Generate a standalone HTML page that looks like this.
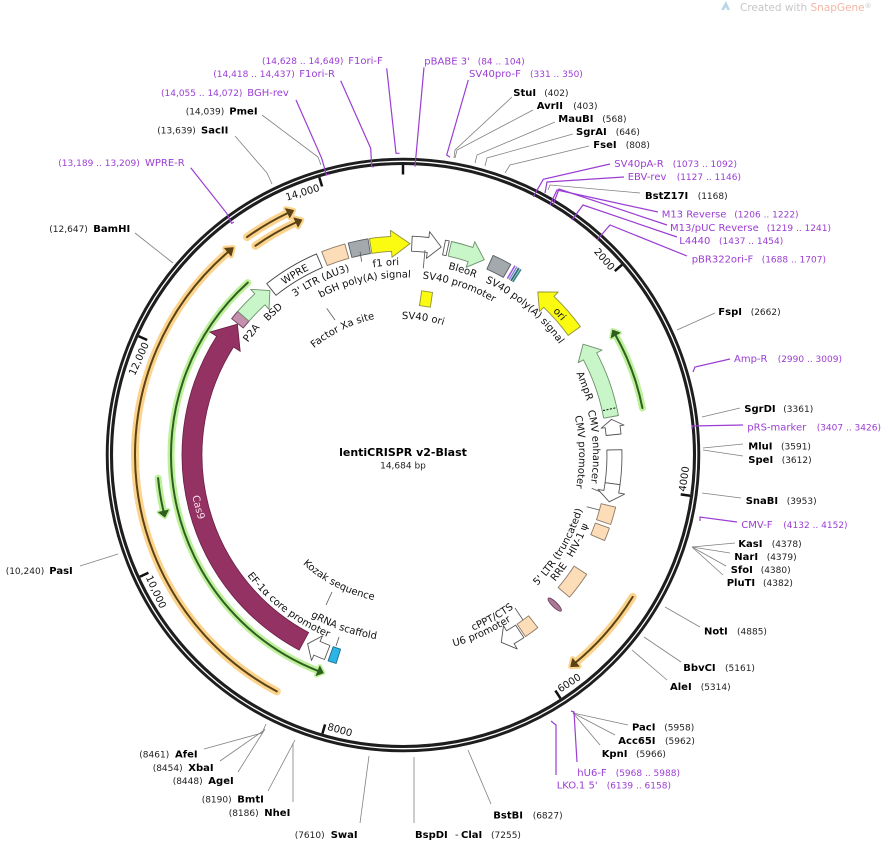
<!DOCTYPE html>
<html>
<head>
<meta charset="utf-8">
<style>
html,body{margin:0;padding:0;background:#fff;}
svg{display:block;font-family:"DejaVu Sans","Liberation Sans",sans-serif;}
.en{font-weight:bold;font-size:10px;fill:#000;}
.nm{font-size:9px;fill:#222;}
.pn{font-size:10px;fill:#9b3dd3;}
.pr{font-size:9px;fill:#9b3dd3;}
.el{stroke:#808080;stroke-width:0.8;fill:none;}
.pl{stroke:#9b3dd3;stroke-width:1.2;fill:none;}
.lb{font-size:10px;fill:#111;}
.ll{stroke:#555;stroke-width:0.8;fill:none;}
.tk{font-size:10px;fill:#111;}
</style>
</head>
<body>
<svg width="890" height="842" viewBox="0 0 890 842" xmlns="http://www.w3.org/2000/svg">
<defs>
<path id="c136" d="M403,319A136,136 0 1 1 403,591A136,136 0 1 1 403,319A136,136 0 1 1 403,591A136,136 0 1 1 403,319"/>
<path id="c139" d="M403,316A139,139 0 1 1 403,594A139,139 0 1 1 403,316A139,139 0 1 1 403,594A139,139 0 1 1 403,316"/>
<path id="c176" d="M403,279A176,176 0 1 1 403,631A176,176 0 1 1 403,279A176,176 0 1 1 403,631A176,176 0 1 1 403,279"/>
<path id="c177" d="M403,277.5A177.5,177.5 0 1 1 403,632.5A177.5,177.5 0 1 1 403,277.5A177.5,177.5 0 1 1 403,632.5A177.5,177.5 0 1 1 403,277.5"/>
<path id="c190" d="M403,265A190,190 0 1 1 403,645A190,190 0 1 1 403,265A190,190 0 1 1 403,645A190,190 0 1 1 403,265"/>
<path id="c191" d="M403,263.5A191.5,191.5 0 1 1 403,646.5A191.5,191.5 0 1 1 403,263.5A191.5,191.5 0 1 1 403,646.5A191.5,191.5 0 1 1 403,263.5"/>
<path id="c207" d="M403,247.5A207.5,207.5 0 1 1 403,662.5A207.5,207.5 0 1 1 403,247.5A207.5,207.5 0 1 1 403,662.5A207.5,207.5 0 1 1 403,247.5"/>
<path id="a148" d="M403,307A148,148 0 1 0 403,603A148,148 0 1 0 403,307A148,148 0 1 0 403,603A148,148 0 1 0 403,307"/>
<path id="a186" d="M403,269A186,186 0 1 0 403,641A186,186 0 1 0 403,269A186,186 0 1 0 403,641A186,186 0 1 0 403,269"/>
<path id="a187" d="M403,267.5A187.5,187.5 0 1 0 403,642.5A187.5,187.5 0 1 0 403,267.5A187.5,187.5 0 1 0 403,642.5A187.5,187.5 0 1 0 403,267.5"/>
<path id="a189" d="M403,266A189,189 0 1 0 403,644A189,189 0 1 0 403,266A189,189 0 1 0 403,644A189,189 0 1 0 403,266"/>
<path id="a197" d="M403,258A197,197 0 1 0 403,652A197,197 0 1 0 403,258A197,197 0 1 0 403,652A197,197 0 1 0 403,258"/>
<path id="a198" d="M403,257A198,198 0 1 0 403,653A198,198 0 1 0 403,257A198,198 0 1 0 403,653A198,198 0 1 0 403,257"/>
<path id="a214" d="M403,240.5A214.5,214.5 0 1 0 403,669.5A214.5,214.5 0 1 0 403,240.5A214.5,214.5 0 1 0 403,669.5A214.5,214.5 0 1 0 403,240.5"/>
</defs>

<rect width="890" height="842" fill="#fff"/>

<polygon points="721,10 726,1 730,10 727,10 726,7 724,10" fill="#b9d7e6"/>
<text x="740" y="11" style="font-size:10.5px"><tspan fill="#c6c6c6">Created with </tspan><tspan fill="#f3b6a6">SnapGene</tspan><tspan fill="#c6c6c6" style="font-size:7px" dy="-3">®</tspan></text>

<g stroke-linecap="round" stroke-linejoin="round">
  <g stroke="#fbd38d" stroke-width="8" fill="#fbd38d">
    <path d="M276.8,691.4 A268,268 0 0 1 227.9,252.1" fill="none"/>
    <polygon points="233.3,247.6 231.2,255.9 224.6,248.3" stroke-width="5"/>
    <path d="M247.0,237.1 A268,268 0 0 1 287.6,213.1" fill="none"/>
    <polygon points="293.6,210.4 289.8,217.6 285.5,208.6" stroke-width="5"/>
    <path d="M255.4,245.8 A256,256 0 0 1 296.0,222.4" fill="none"/>
    <polygon points="301.8,219.9 298.1,227.0 293.9,217.9" stroke-width="5"/>
    <path d="M632.7,596.9 A270,270 0 0 1 575.8,662.4" fill="none"/>
    <polygon points="570.7,666.6 572.6,658.6 579.0,666.3" stroke-width="5"/>
  </g>
  <g stroke="#5a4214" stroke-width="2" fill="#5a4214">
    <path d="M276.8,691.4 A268,268 0 0 1 227.9,252.1" fill="none"/>
    <polygon points="233.3,247.6 231.2,255.9 224.6,248.3" stroke-width="0.8"/>
    <path d="M247.0,237.1 A268,268 0 0 1 287.6,213.1" fill="none"/>
    <polygon points="293.6,210.4 289.8,217.6 285.5,208.6" stroke-width="0.8"/>
    <path d="M255.4,245.8 A256,256 0 0 1 296.0,222.4" fill="none"/>
    <polygon points="301.8,219.9 298.1,227.0 293.9,217.9" stroke-width="0.8"/>
    <path d="M632.7,596.9 A270,270 0 0 1 575.8,662.4" fill="none"/>
    <polygon points="570.7,666.6 572.6,658.6 579.0,666.3" stroke-width="0.8"/>
  </g>
  <g stroke="#bdf09a" stroke-width="7" fill="#bdf09a">
    <path d="M642.4,408.0 A244,244 0 0 0 615.6,335.2" fill="none"/>
    <polygon points="612.6,330.1 611.2,337.7 619.9,332.8" stroke-width="4"/>
    <path d="M158.1,478.1 A246,246 0 0 0 163.5,511.2" fill="none"/>
    <polygon points="164.9,517.0 168.4,510.0 158.6,512.3" stroke-width="4"/>
    <path d="M247.8,282.6 A232,232 0 0 0 318.0,670.9" fill="none"/>
    <polygon points="323.3,672.9 319.8,666.2 316.1,675.5" stroke-width="4"/>
  </g>
  <g stroke="#2f5e1f" stroke-width="2" fill="#2f5e1f">
    <path d="M642.4,408.0 A244,244 0 0 0 615.6,335.2" fill="none"/>
    <polygon points="612.6,330.1 611.2,337.7 619.9,332.8" stroke-width="0.8"/>
    <path d="M158.1,478.1 A246,246 0 0 0 163.5,511.2" fill="none"/>
    <polygon points="164.9,517.0 168.4,510.0 158.6,512.3" stroke-width="0.8"/>
    <path d="M247.8,282.6 A232,232 0 0 0 318.0,670.9" fill="none"/>
    <polygon points="323.3,672.9 319.8,666.2 316.1,675.5" stroke-width="0.8"/>
  </g>
</g>

<path d="M299.2,650.1 A221,221 0 0 1 216.6,336.3 L209.9,332.0 L237.4,324.2 L240.2,351.3 L233.5,347.0 A201,201 0 0 0 308.6,632.5 Z" fill="#933263" stroke="#6a1f45" stroke-width="0.8"/>
<text style="font-size:10px;fill:#f8dcea"><textPath href="#a214" startOffset="64.49%" text-anchor="middle">Cas9</textPath></text>

<g stroke-width="0.9" stroke-linejoin="round">
<path d="M231.6,318.7 A219,219 0 0 1 237.7,311.3 L249.0,321.2 A204,204 0 0 0 243.3,328.0 Z" fill="#c58fae" stroke="#6b3d58"/>
<path d="M237.7,311.3 A219,219 0 0 1 254.8,293.8 L250.7,289.4 L269.9,290.6 L269.0,309.3 L264.9,304.8 A204,204 0 0 0 249.0,321.2 Z" fill="#c8f6c8" stroke="#6d8f6d"/>
<path d="M266.7,283.6 A219,219 0 0 1 316.4,253.9 L322.3,267.6 A204,204 0 0 0 276.0,295.3 Z" fill="#fff" stroke="#444"/>
<path d="M321.7,251.7 A219,219 0 0 1 344.8,243.9 L348.8,258.3 A204,204 0 0 0 327.2,265.6 Z" fill="#fddcb8" stroke="#8c7a66"/>
<path d="M348.2,243.0 A219,219 0 0 1 368.0,238.8 L370.4,253.6 A204,204 0 0 0 351.9,257.5 Z" fill="#a4a9ae" stroke="#555b60"/>
<path d="M369.5,238.6 A219,219 0 0 1 390.8,236.4 L390.4,230.4 L410.0,243.6 L392.0,257.3 L391.6,251.3 A204,204 0 0 0 371.8,253.4 Z" fill="#fbfb12" stroke="#8f8f3a"/>
<path d="M412.2,236.2 A219,219 0 0 1 428.9,237.5 L429.6,231.6 L441.2,247.0 L426.4,258.4 L427.2,252.4 A204,204 0 0 0 411.5,251.2 Z" fill="#fff" stroke="#555"/>
<path d="M445.5,240.2 A219,219 0 0 1 449.3,240.9 L446.1,255.6 A204,204 0 0 0 442.6,254.9 Z" fill="#fff" stroke="#555"/>
<path d="M451.5,241.5 A219,219 0 0 1 472.9,247.4 L474.8,241.7 L484.3,259.7 L466.2,267.3 L468.1,261.6 A204,204 0 0 0 448.2,256.1 Z" fill="#c8f6c8" stroke="#6d8f6d"/>
<path d="M493.1,255.4 A219,219 0 0 1 510.8,264.4 L503.4,277.4 A204,204 0 0 0 486.9,269.1 Z" fill="#a4a9ae" stroke="#555b60"/>
<line x1="507.3" y1="278.6" x2="515.0" y2="265.6" stroke="#a05ad8" stroke-width="1.6"/>
<line x1="509.2" y1="279.6" x2="517.0" y2="266.8" stroke="#7b86e0" stroke-width="1.4"/>
<line x1="511.0" y1="280.8" x2="518.9" y2="268.0" stroke="#2b6d6d" stroke-width="1.8"/>
<line x1="512.8" y1="281.9" x2="520.9" y2="269.3" stroke="#3e8c8a" stroke-width="1.8"/>
<path d="M580.4,326.6 A219,219 0 0 0 554.0,296.4 L558.2,292.1 L537.8,292.0 L539.5,311.6 L543.7,307.3 A204,204 0 0 1 568.2,335.4 Z" fill="#fbfb12" stroke="#8f8f3a"/>
<path d="M618.4,415.5 A219,219 0 0 0 596.7,352.9 L602.0,350.1 L583.1,344.2 L578.2,362.7 L583.5,359.9 A204,204 0 0 1 603.7,418.2 Z" fill="#c8f6c8" stroke="#6d8f6d"/>
<line x1="603.1" y1="410.6" x2="615.8" y2="407.8" stroke="#111" stroke-width="1" stroke-dasharray="2,1.5"/>
<path d="M621.0,434.0 A219,219 0 0 0 620.0,425.7 L624.0,425.1 L611.5,419.4 L601.2,428.2 L605.2,427.7 A204,204 0 0 1 606.1,435.5 Z" fill="#fff" stroke="#555"/>
<path d="M621.9,449.7 A219,219 0 0 1 620.0,484.7 L605.1,482.7 A204,204 0 0 0 606.9,450.0 Z" fill="#fff" stroke="#555"/>
<path d="M620.0,484.7 A219,219 0 0 1 618.7,493.0 L624.6,494.1 L609.2,501.8 L598.0,489.4 L603.9,490.4 A204,204 0 0 0 605.1,482.7 Z" fill="#fff" stroke="#555"/>
<path d="M615.7,507.2 A219,219 0 0 1 610.7,524.5 L596.5,519.7 A204,204 0 0 0 601.1,503.7 Z" fill="#fddcb8" stroke="#8c7a66"/>
<path d="M609.4,528.1 A219,219 0 0 1 604.6,540.6 L590.8,534.7 A204,204 0 0 0 595.3,523.1 Z" fill="#fddcb8" stroke="#8c7a66"/>
<path d="M586.7,574.3 A219,219 0 0 1 569.5,597.2 L558.1,587.5 A204,204 0 0 0 574.1,566.1 Z" fill="#fddcb8" stroke="#8c7a66"/>
<ellipse cx="554.7" cy="604.6" rx="9" ry="2.6" transform="rotate(44.6 554.7 604.6)" fill="#b07898" stroke="#6a4060"/>
<path d="M537.8,627.6 A219,219 0 0 1 525.5,636.6 L517.1,624.1 A204,204 0 0 0 528.6,615.8 Z" fill="#fddcb8" stroke="#8c7a66"/>
<path d="M523.9,637.6 A219,219 0 0 1 514.1,643.7 L517.2,648.9 L501.3,642.3 L503.5,625.6 L506.5,630.8 A204,204 0 0 0 515.6,625.1 Z" fill="#fff" stroke="#555"/>
<path d="M336.1,663.5 A219,219 0 0 1 328.1,660.8 L333.2,646.7 A204,204 0 0 0 340.6,649.2 Z" fill="#2db4e6" stroke="#1a6f8f"/>
<path d="M324.5,659.5 A219,219 0 0 1 313.9,655.1 L311.5,660.5 L307.6,643.8 L322.5,635.9 L320.0,641.4 A204,204 0 0 0 329.9,645.5 Z" fill="#fff" stroke="#555"/>
<rect x="420.5" y="291.5" width="11" height="15" transform="rotate(8.4 426 299)" fill="#fbfb12" stroke="#8f8f3a"/>
</g>

<line class="ll" x1="326.7" y1="308.3" x2="335" y2="320"/>
<line class="ll" x1="360" y1="251.7" x2="361.7" y2="261.7"/>
<line class="ll" x1="425" y1="250" x2="423.3" y2="268.3"/>
<line class="ll" x1="515" y1="608" x2="523" y2="620"/>
<line class="ll" x1="591.7" y1="488.3" x2="600" y2="491.7"/>
<line class="ll" x1="586.7" y1="506.7" x2="599.3" y2="510"/>
<line class="ll" x1="332" y1="592" x2="326" y2="605"/>
<line class="ll" x1="339" y1="637" x2="336" y2="646"/>

<g class="lb">
<text class="lb"><textPath href="#c191" startOffset="42.89%" text-anchor="middle">P2A</textPath></text>
<text class="lb"><textPath href="#c190" startOffset="44.13%" text-anchor="middle">BSD</textPath></text>
<text class="lb"><textPath href="#c207" startOffset="45.71%" text-anchor="middle">WPRE</textPath></text>
<text class="lb"><textPath href="#c191" startOffset="46.49%" text-anchor="middle">3' LTR (ΔU3)</textPath></text>
<text class="lb"><textPath href="#c177" startOffset="48.25%" text-anchor="middle">bGH poly(A) signal</textPath></text>
<text class="lb"><textPath href="#c190" startOffset="49.29%" text-anchor="middle">f1 ori</textPath></text>
<text class="lb"><textPath href="#c177" startOffset="52.57%" text-anchor="middle">SV40 promoter</textPath></text>
<text class="lb"><textPath href="#c191" startOffset="52.49%" text-anchor="middle">BleoR</textPath></text>
<text class="lb"><textPath href="#c191" startOffset="55.56%" text-anchor="middle">SV40 poly(A) signal</textPath></text>
<text class="lb"><textPath href="#c207" startOffset="56.67%" text-anchor="middle">ori</textPath></text>
<text class="lb"><textPath href="#c191" startOffset="59.61%" text-anchor="middle">AmpR</textPath></text>
<text class="lb"><textPath href="#c190" startOffset="62.15%" text-anchor="middle">CMV enhancer</textPath></text>
<text class="lb"><textPath href="#c176" startOffset="62.36%" text-anchor="middle">CMV promoter</textPath></text>
<text class="lb"><textPath href="#c139" startOffset="46.42%" text-anchor="middle">Factor Xa site</textPath></text>
<text class="lb"><textPath href="#c136" startOffset="51.17%" text-anchor="middle">SV40 ori</textPath></text>
<text class="lb"><textPath href="#a187" startOffset="83.25%" text-anchor="middle">5' LTR (truncated)</textPath></text>
<text class="lb"><textPath href="#a198" startOffset="83.89%" text-anchor="middle">HIV-1 ψ</textPath></text>
<text class="lb"><textPath href="#a198" startOffset="82.38%" text-anchor="middle">RRE</textPath></text>
<text class="lb"><textPath href="#a189" startOffset="79.0%" text-anchor="middle">cPPT/CTS</textPath></text>
<text class="lb"><textPath href="#a198" startOffset="78.33%" text-anchor="middle">U6 promoter</textPath></text>
<text class="lb"><textPath href="#a148" startOffset="71.25%" text-anchor="middle">Kozak sequence</textPath></text>
<text class="lb"><textPath href="#a186" startOffset="72.36%" text-anchor="middle">gRNA scaffold</textPath></text>
<text class="lb"><textPath href="#a197" startOffset="69.82%" text-anchor="middle">EF-1α core promoter</textPath></text>
</g>

<text x="403" y="456" text-anchor="middle" style="font-size:11px;font-weight:bold;fill:#000">lentiCRISPR v2-Blast</text>
<text x="403" y="468.5" text-anchor="middle" style="font-size:9px;fill:#222">14,684 bp</text>

<circle cx="403" cy="455" r="293.6" fill="none" stroke="#1e1e1e" stroke-width="7.3"/>
<circle cx="403" cy="455" r="293.7" fill="none" stroke="#fff" stroke-width="1.3"/>

<line x1="403" y1="165" x2="403" y2="174.5" stroke="#111" stroke-width="2.5"/>
<g transform="rotate(49.03 403 455)"><line x1="403" y1="165" x2="403" y2="174.5" stroke="#111" stroke-width="2.5"/><text class="tk" x="400" y="178" text-anchor="end">2000</text></g>
<g transform="rotate(98.07 403 455)"><line x1="403" y1="165" x2="403" y2="174.5" stroke="#111" stroke-width="2.5"/><text class="tk" transform="rotate(180 400 170)" x="400" y="170">4000</text></g>
<g transform="rotate(147.10 403 455)"><line x1="403" y1="165" x2="403" y2="174.5" stroke="#111" stroke-width="2.5"/><text class="tk" transform="rotate(180 400 170)" x="400" y="170">6000</text></g>
<g transform="rotate(196.13 403 455)"><line x1="403" y1="165" x2="403" y2="174.5" stroke="#111" stroke-width="2.5"/><text class="tk" transform="rotate(180 400 170)" x="400" y="170">8000</text></g>
<g transform="rotate(245.17 403 455)"><line x1="403" y1="165" x2="403" y2="174.5" stroke="#111" stroke-width="2.5"/><text class="tk" transform="rotate(180 400 170)" x="400" y="170">10,000</text></g>
<g transform="rotate(294.20 403 455)"><line x1="403" y1="165" x2="403" y2="174.5" stroke="#111" stroke-width="2.5"/><text class="tk" x="400" y="178" text-anchor="end">12,000</text></g>
<g transform="rotate(343.23 403 455)"><line x1="403" y1="165" x2="403" y2="174.5" stroke="#111" stroke-width="2.5"/><text class="tk" x="400" y="178" text-anchor="end">14,000</text></g>

<polyline class="el" points="262,115 318,157 321,165"/>
<polyline class="el" points="235,136 267,173 272,184"/>
<polyline class="el" points="135,233 173,263"/>
<polyline class="el" points="80,566 118,554"/>
<polyline class="el" points="204,749 262,733 266,724"/>
<polyline class="el" points="220,761 263,731"/>
<polyline class="el" points="238,772 265,729"/>
<polyline class="el" points="268,791 295,740"/>
<polyline class="el" points="293,802 293,743"/>
<polyline class="el" points="360,823 369,756"/>
<polyline class="el" points="414,823 414,757"/>
<polyline class="el" points="491,804 468,750"/>
<polyline class="el" points="600,745 573,713"/>
<polyline class="el" points="615,735 573,713"/>
<polyline class="el" points="628,725 573,713"/>
<polyline class="el" points="667,680 632,650"/>
<polyline class="el" points="681,662 644,637"/>
<polyline class="el" points="700,627 665,607"/>
<polyline class="el" points="723,575 692,547"/>
<polyline class="el" points="726,566 692,547"/>
<polyline class="el" points="730,553 692,547"/>
<polyline class="el" points="735,543 692,547"/>
<polyline class="el" points="741,498 702,493"/>
<polyline class="el" points="743,456 703,450"/>
<polyline class="el" points="743,444 703,448"/>
<polyline class="el" points="740,408 702,417"/>
<polyline class="el" points="715,313 677,330"/>
<polyline class="el" points="640,193 550,185 548,190"/>
<polyline class="el" points="589,146 510,165 505,173"/>
<polyline class="el" points="573,134 487,158 485,166"/>
<polyline class="el" points="555,122 477,155 475,163"/>
<polyline class="el" points="533,110 457,150 455,158"/>
<polyline class="el" points="512,97 455,150 454,158"/>

<polyline class="pl" points="386.7,68.3 396,153.3 399.5,153.3"/>
<polyline class="pl" points="340.7,80.7 370.7,148.3 371.7,166.7 374,166.7"/>
<polyline class="pl" points="296,100 321.7,158.3 326.5,175 329,174"/>
<polyline class="pl" points="190.7,167.7 226.7,213.3 231.7,223.3 234,222"/>
<polyline class="pl" points="424,67.3 415,166.7"/>
<polyline class="pl" points="468.3,80 446.7,155 450,157.3"/>
<polyline class="pl" points="610,164 543.3,179.3 533.3,196.7"/>
<polyline class="pl" points="624,177 547,182 545,193"/>
<polyline class="pl" points="658,212 557,190 550,205"/>
<polyline class="pl" points="667,225 559,189 553,205"/>
<polyline class="pl" points="677,237 583,205 572,220"/>
<polyline class="pl" points="687,256 610,225 597,240"/>
<polyline class="pl" points="730,359 695,367 693,372"/>
<polyline class="pl" points="743,425 692,426 692,429"/>
<polyline class="pl" points="737,522 700,517 700,521"/>
<polyline class="pl" points="577,762 574,712 571,711"/>
<polyline class="pl" points="556,775 556,725 551,721"/>

<text class="pr" x="262" y="64">(14,628 .. 14,649)</text><text class="pn" x="348.3" y="64">F1ori-F</text>
<text class="pr" x="213.3" y="77">(14,418 .. 14,437)</text><text class="pn" x="299.3" y="77">F1ori-R</text>
<text class="pr" x="161" y="96">(14,055 .. 14,072)</text><text class="pn" x="247.3" y="96">BGH-rev</text>
<text class="nm" x="185.7" y="114.5">(14,039)</text><text class="en" x="229.3" y="114.5">PmeI</text>
<text class="nm" x="157.3" y="133.5">(13,639)</text><text class="en" x="201" y="133.5">SacII</text>
<text class="pr" x="58.3" y="166">(13,189 .. 13,209)</text><text class="pn" x="145" y="166">WPRE-R</text>
<text class="nm" x="49.3" y="232">(12,647)</text><text class="en" x="93.3" y="232">BamHI</text>
<text class="nm" x="5.7" y="574">(10,240)</text><text class="en" x="49.3" y="574">PasI</text>
<text class="nm" x="139.3" y="757.5">(8461)</text><text class="en" x="175" y="757.5">AfeI</text>
<text class="nm" x="152.7" y="771">(8454)</text><text class="en" x="188.3" y="771">XbaI</text>
<text class="nm" x="172.7" y="784">(8448)</text><text class="en" x="208.3" y="784">AgeI</text>
<text class="nm" x="201.7" y="802.5">(8190)</text><text class="en" x="237.3" y="802.5">BmtI</text>
<text class="nm" x="228.7" y="816">(8186)</text><text class="en" x="264.3" y="816">NheI</text>
<text class="nm" x="294.7" y="838">(7610)</text><text class="en" x="330.7" y="838">SwaI</text>

<text class="en" x="415" y="838">BspDI</text><text class="nm" x="455" y="838" style="font-size:10px">-</text><text class="en" x="461" y="838">ClaI</text><text class="nm" x="491" y="838">(7255)</text>
<text class="en" x="493.3" y="818.5">BstBI</text><text class="nm" x="532.7" y="818.5">(6827)</text>
<text class="pn" x="556.7" y="788.5">LKO.1 5'</text><text class="pr" x="606.7" y="788.5">(6139 .. 6158)</text>
<text class="pn" x="577.3" y="776">hU6-F</text><text class="pr" x="615.7" y="776">(5968 .. 5988)</text>
<text class="en" x="601.7" y="757">KpnI</text><text class="nm" x="636" y="757">(5966)</text>
<text class="en" x="618.3" y="744">Acc65I</text><text class="nm" x="665" y="744">(5962)</text>
<text class="en" x="632" y="730.5">PacI</text><text class="nm" x="664.3" y="730.5">(5958)</text>
<text class="en" x="670" y="690">AleI</text><text class="nm" x="700.7" y="690">(5314)</text>
<text class="en" x="683.3" y="671">BbvCI</text><text class="nm" x="725" y="671">(5161)</text>
<text class="en" x="704" y="634.5">NotI</text><text class="nm" x="737" y="634.5">(4885)</text>
<text class="en" x="726.7" y="586">PluTI</text><text class="nm" x="763" y="586">(4382)</text>
<text class="en" x="730.7" y="573">SfoI</text><text class="nm" x="760.7" y="573">(4380)</text>
<text class="en" x="734.3" y="560">NarI</text><text class="nm" x="766.7" y="560">(4379)</text>
<text class="en" x="738.3" y="547">KasI</text><text class="nm" x="771.7" y="547">(4378)</text>
<text class="pn" x="741.3" y="528">CMV-F</text><text class="pr" x="783.3" y="528">(4132 .. 4152)</text>
<text class="en" x="745.7" y="504">SnaBI</text><text class="nm" x="786.7" y="504">(3953)</text>
<text class="en" x="748.3" y="463">SpeI</text><text class="nm" x="781.7" y="463">(3612)</text>
<text class="en" x="748.3" y="449.5">MluI</text><text class="nm" x="781" y="449.5">(3591)</text>
<text class="pn" x="747.3" y="430.5">pRS-marker</text><text class="pr" x="816.7" y="430.5">(3407 .. 3426)</text>
<text class="en" x="744.3" y="412">SgrDI</text><text class="nm" x="783.3" y="412">(3361)</text>
<text class="pn" x="734" y="362">Amp-R</text><text class="pr" x="777.7" y="362">(2990 .. 3009)</text>
<text class="en" x="718.3" y="315">FspI</text><text class="nm" x="750.7" y="315">(2662)</text>
<text class="pn" x="691.7" y="262.5">pBR322ori-F</text><text class="pr" x="761.7" y="262.5">(1688 .. 1707)</text>
<text class="pn" x="679.3" y="244">L4440</text><text class="pr" x="719" y="244">(1437 .. 1454)</text>
<text class="pn" x="670" y="231">M13/pUC Reverse</text><text class="pr" x="766.7" y="231">(1219 .. 1241)</text>
<text class="pn" x="661.7" y="217.5">M13 Reverse</text><text class="pr" x="734.3" y="217.5">(1206 .. 1222)</text>
<text class="en" x="645" y="199">BstZ17I</text><text class="nm" x="697.7" y="199">(1168)</text>
<text class="pn" x="627.7" y="180">EBV-rev</text><text class="pr" x="676.7" y="180">(1127 .. 1146)</text>
<text class="pn" x="614.3" y="167">SV40pA-R</text><text class="pr" x="672.7" y="167">(1073 .. 1092)</text>
<text class="en" x="593.3" y="148">FseI</text><text class="nm" x="625.7" y="148">(808)</text>
<text class="en" x="576" y="135">SgrAI</text><text class="nm" x="615.7" y="135">(646)</text>
<text class="en" x="558.3" y="122">MauBI</text><text class="nm" x="602.3" y="122">(568)</text>
<text class="en" x="536.7" y="109">AvrII</text><text class="nm" x="573.3" y="109">(403)</text>
<text class="en" x="513.3" y="96">StuI</text><text class="nm" x="544.3" y="96">(402)</text>
<text class="pn" x="469" y="77">SV40pro-F</text><text class="pr" x="530" y="77">(331 .. 350)</text>
<text class="pn" x="424.3" y="64.5">pBABE 3'</text><text class="pr" x="477.7" y="64.5">(84 .. 104)</text>
</svg>
</body>
</html>
